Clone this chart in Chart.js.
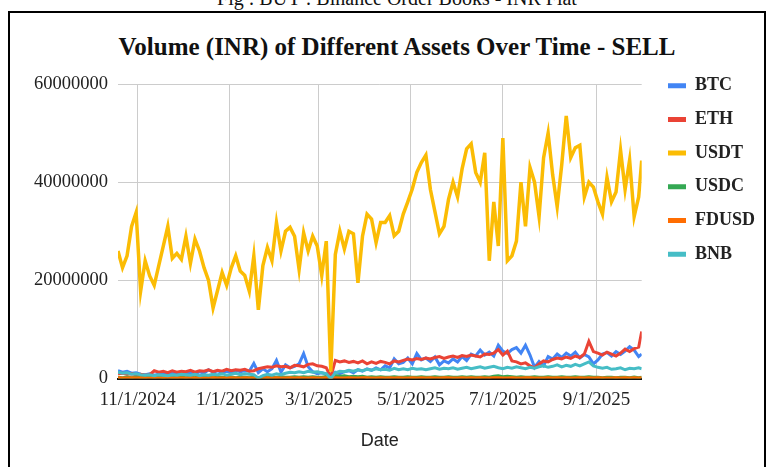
<!DOCTYPE html>
<html>
<head>
<meta charset="utf-8">
<script src="https://cdn.jsdelivr.net/npm/chart.js@4.4.1/dist/chart.umd.min.js"></script>
<style>
  body { margin: 0; background: #fff; width: 770px; height: 467px; overflow: hidden; position: relative; }
  #frame { position: absolute; left: 8px; top: 11px; width: 754px; height: 470px; border: 2px solid #000; border-bottom: none; }
  #caption { position: absolute; left: 0; width: 794px; top: -12px; text-align: center; font: 20px/20px "Liberation Serif", serif; color: #111; white-space: nowrap; }
  #title { position: absolute; left: 0; width: 794px; top: 34px; text-align: center; font: bold 25px/25px "Liberation Serif", serif; color: #111; white-space: nowrap; }
  canvas { position: absolute; left: 0; top: 0; }
</style>
</head>
<body>
<div id="caption">Fig : BUY : Binance Order Books - INR Fiat</div>
<div id="frame"></div>
<div id="title">Volume (INR) of Different Assets Over Time - SELL</div>
<canvas id="chart" width="770" height="467"></canvas>
<script>
// DATA (volumes in millions of INR, one sample every 3 days)

const dates = [
  '2024-10-19','2024-10-22','2024-10-25','2024-10-28','2024-10-31','2024-11-03','2024-11-06','2024-11-09','2024-11-12','2024-11-15',
  '2024-11-18','2024-11-21','2024-11-24','2024-11-27','2024-11-30','2024-12-03','2024-12-06','2024-12-09','2024-12-12','2024-12-15',
  '2024-12-18','2024-12-21','2024-12-24','2024-12-27','2024-12-30','2025-01-02','2025-01-05','2025-01-08','2025-01-11','2025-01-14',
  '2025-01-17','2025-01-20','2025-01-23','2025-01-26','2025-01-29','2025-02-01','2025-02-04','2025-02-07','2025-02-10','2025-02-13',
  '2025-02-16','2025-02-19','2025-02-22','2025-02-25','2025-02-28','2025-03-03','2025-03-06','2025-03-09','2025-03-12','2025-03-15',
  '2025-03-18','2025-03-21','2025-03-24','2025-03-27','2025-03-30','2025-04-02','2025-04-05','2025-04-08','2025-04-11','2025-04-14',
  '2025-04-17','2025-04-20','2025-04-23','2025-04-26','2025-04-29','2025-05-02','2025-05-05','2025-05-08','2025-05-11','2025-05-14',
  '2025-05-17','2025-05-20','2025-05-23','2025-05-26','2025-05-29','2025-06-01','2025-06-04','2025-06-07','2025-06-10','2025-06-13',
  '2025-06-16','2025-06-19','2025-06-22','2025-06-25','2025-06-28','2025-07-01','2025-07-04','2025-07-07','2025-07-10','2025-07-13',
  '2025-07-16','2025-07-19','2025-07-22','2025-07-25','2025-07-28','2025-07-31','2025-08-03','2025-08-06','2025-08-09','2025-08-12',
  '2025-08-15','2025-08-18','2025-08-21','2025-08-24','2025-08-27','2025-08-30','2025-09-02','2025-09-05','2025-09-08','2025-09-11',
  '2025-09-14','2025-09-17','2025-09-20','2025-09-23','2025-09-26','2025-09-29','2025-10-01'
];

const btc = [
  1.6, 1.3, 1.5, 1.1, 1.2, 0.9, 0.8, 1.0, 0.7, 0.9,
  1.0, 0.8, 1.1, 0.9, 1.2, 1.0, 1.3, 0.9, 1.4, 1.1,
  1.8, 1.3, 1.6, 1.2, 1.5, 1.3, 1.7, 1.4, 1.6, 1.5,
  3.1, 1.2, 2.0, 1.4, 2.0, 3.7, 1.3, 2.8, 2.2, 2.5,
  3.0, 5.1, 2.4, 1.4, 1.0, 1.2, 0.9, 0.2, 1.3, 1.0,
  1.4, 1.6, 1.2, 1.8, 1.5, 2.0, 1.7, 2.2, 1.8, 2.6,
  2.2, 4.0, 3.0, 3.3, 4.2, 3.0, 5.1, 3.8, 4.2, 3.5,
  4.4, 2.8, 3.6, 3.2, 4.0, 3.4, 4.5, 3.7, 5.0, 4.6,
  5.8, 4.8, 5.4, 4.6, 6.8, 5.6, 5.1, 5.9, 6.3, 5.2,
  6.8, 4.8, 2.3, 3.5, 2.6, 4.5, 4.0, 5.0, 4.3, 5.2,
  4.6, 5.4, 4.2, 4.9, 4.4, 3.0, 3.8, 5.0, 5.3, 4.6,
  5.5, 4.9, 5.6, 6.5, 5.8, 4.5, 5.0
];

const eth = [
  1.0, 1.1, 0.9, 1.0, 0.8, 0.9, 0.7, 0.8, 1.6, 1.3,
  1.5, 1.2, 1.6, 1.3, 1.5, 1.4, 1.7, 1.3, 1.6, 1.5,
  1.8, 1.4, 1.7, 1.5, 1.9, 1.6, 1.8, 1.7, 1.9, 1.5,
  1.6, 2.0, 2.2, 2.4, 2.3, 2.6, 2.4, 2.5, 2.2, 2.7,
  2.6, 2.4, 2.9, 3.0, 2.6, 2.5, 2.2, 0.3, 3.7, 3.4,
  3.6, 3.3, 3.5, 3.2, 3.6, 3.0, 3.4, 3.1, 3.5, 3.3,
  3.0, 3.6, 3.4, 3.7, 4.0, 3.8, 4.1, 3.9, 4.2, 4.0,
  4.3, 4.5, 4.1, 4.4, 4.6, 4.3, 4.7, 4.5, 4.8, 4.6,
  4.4, 5.0, 4.9, 5.2, 5.9, 4.8, 5.6, 3.6, 3.4, 3.0,
  3.2, 2.6, 2.2, 3.0, 3.6, 3.4, 3.9, 4.2, 4.0, 4.4,
  4.1, 4.6, 4.3, 5.0, 7.6, 5.5, 5.2, 4.8, 5.4, 5.0,
  4.6, 5.2, 6.0, 5.5, 6.1, 6.4, 9.6
];

const usdt = [
  26.0, 22.6, 25.0, 31.0, 33.8, 17.8, 24.0, 20.9, 19.0, 23.0,
  27.0, 31.0, 24.5, 25.5, 24.3, 29.0, 23.5, 28.4, 26.0, 22.6,
  20.0, 14.4, 18.0, 21.6, 19.0, 22.5, 25.0, 21.9, 21.0, 17.8,
  25.0, 14.0, 23.0, 26.7, 24.0, 31.8, 26.0, 30.0, 30.8, 29.0,
  22.2, 29.7, 26.0, 29.0, 27.0, 21.0, 28.0, 1.4, 25.3, 30.0,
  26.4, 30.0, 29.5, 19.5, 29.0, 33.5, 32.5, 27.7, 31.8, 31.8,
  33.2, 29.1, 30.0, 33.5, 36.0, 38.6, 42.0, 44.0, 45.5, 38.5,
  34.0, 29.5, 31.0, 36.5, 40.0, 37.0, 42.7, 46.8, 47.8, 42.0,
  40.0, 46.0, 24.0, 36.0, 27.0, 49.0, 24.0, 25.0, 28.0, 40.0,
  31.0, 43.0, 40.0, 33.0, 45.0, 50.0, 41.5, 35.0, 43.5, 53.5,
  45.0, 47.0, 47.5, 37.0, 40.0, 39.0, 36.0, 33.5, 41.0, 36.0,
  38.0, 46.5, 38.5, 44.5, 33.0, 37.0, 44.4
];

const usdc = [
  0.3, 0.2, 0.3, 0.2, 0.3, 0.2, 0.2, 0.3, 0.2, 0.3,
  0.2, 0.3, 0.2, 0.2, 0.3, 0.2, 0.3, 0.2, 0.2, 0.3,
  0.3, 0.2, 0.3, 0.3, 0.2, 0.3, 0.2, 0.3, 0.3, 0.2,
  0.3, 0.2, 0.3, 0.2, 0.3, 0.3, 0.4, 0.3, 0.3, 0.4,
  0.3, 0.4, 0.3, 0.4, 0.3, 0.3, 0.4, 0.1, 0.6, 0.5,
  0.6, 0.4, 0.5, 0.4, 0.5, 0.3, 0.4, 0.3, 0.4, 0.3,
  0.3, 0.4, 0.3, 0.3, 0.4, 0.3, 0.3, 0.4, 0.3, 0.3,
  0.4, 0.3, 0.3, 0.4, 0.3, 0.3, 0.4, 0.3, 0.4, 0.3,
  0.3, 0.4, 0.3, 0.5, 0.6, 0.4, 0.5, 0.4, 0.3, 0.4,
  0.3, 0.3, 0.4, 0.3, 0.3, 0.4, 0.3, 0.3, 0.4, 0.3,
  0.3, 0.4, 0.3, 0.3, 0.4, 0.3, 0.3, 0.2, 0.3, 0.3,
  0.2, 0.3, 0.3, 0.2, 0.3, 0.2, 0.3
];

const fdusd = [
  0.15, 0.12, 0.14, 0.16, 0.13, 0.15, 0.14, 0.12, 0.15, 0.13,
  0.14, 0.16, 0.13, 0.15, 0.12, 0.14, 0.15, 0.13, 0.16, 0.14,
  0.12, 0.15, 0.14, 0.13, 0.15, 0.16, 0.14, 0.12, 0.15, 0.13,
  0.14, 0.15, 0.13, 0.16, 0.14, 0.15, 0.12, 0.14, 0.16, 0.13,
  0.15, 0.14, 0.13, 0.15, 0.12, 0.14, 0.15, 0.05, 0.16, 0.14,
  0.13, 0.15, 0.14, 0.12, 0.15, 0.16, 0.13, 0.14, 0.15, 0.13,
  0.16, 0.14, 0.15, 0.12, 0.14, 0.15, 0.13, 0.16, 0.14, 0.15,
  0.13, 0.14, 0.16, 0.15, 0.12, 0.14, 0.15, 0.13, 0.16, 0.14,
  0.15, 0.13, 0.14, 0.16, 0.15, 0.12, 0.14, 0.15, 0.13, 0.14,
  0.16, 0.15, 0.13, 0.14, 0.12, 0.15, 0.14, 0.16, 0.13, 0.15,
  0.14, 0.12, 0.15, 0.13, 0.16, 0.14, 0.15, 0.13, 0.14, 0.12,
  0.15, 0.14, 0.16, 0.13, 0.15, 0.14, 0.15
];

const bnb = [
  1.3, 1.1, 1.2, 0.9, 1.0, 0.8, 0.7, 0.8, 0.6, 0.8,
  0.7, 0.6, 0.8, 0.7, 0.9, 0.8, 0.7, 0.9, 0.6, 0.8,
  0.7, 0.9, 0.8, 1.0, 0.7, 0.9, 1.1, 0.8, 1.0, 0.9,
  0.8, 0.1, 0.6, 0.9, 0.7, 1.0, 0.8, 1.1, 1.3, 1.2,
  1.4, 1.2, 1.5, 1.3, 1.4, 1.2, 1.0, 0.0, 1.2, 1.5,
  1.4, 1.7, 1.5, 1.8, 1.6, 1.9, 1.7, 2.0, 1.8, 1.9,
  1.7, 2.1, 1.8, 2.0, 1.8, 2.1, 1.9, 2.0, 1.8, 2.0,
  2.2, 1.9, 2.1, 2.0, 2.2, 1.9, 2.1, 2.3, 2.0, 2.2,
  2.4, 2.1, 2.3, 2.5, 2.2, 2.0, 2.3, 2.1, 2.4, 2.2,
  2.0, 2.3, 2.1, 2.4, 2.6, 2.3, 2.5, 2.8, 2.4, 2.7,
  2.5, 2.9, 2.6, 3.0, 3.4, 2.6, 2.3, 2.1, 2.3, 1.9,
  2.0, 2.2, 1.8, 2.1, 2.0, 2.2, 2.0
];

const xTickLabels = ['11/1/2024', '1/1/2025', '3/1/2025', '5/1/2025', '7/1/2025', '9/1/2025'];
const yTicks = [0, 20000000, 40000000, 60000000];

// helpers

function isoDay(s) {
  const p = s.split('-').map(Number);
  return Date.UTC(p[0], p[1] - 1, p[2]) / 86400000;
}
function usDay(s) {
  const p = s.split('/').map(Number);
  return Date.UTC(p[2], p[0] - 1, p[1]) / 86400000;
}

const day0 = isoDay(dates[0]);
const days = dates.map(d => isoDay(d) - day0);
const tickDays = xTickLabels.map(l => usDay(l) - day0);

function series(vals) {
  return vals.map((v, i) => ({ x: days[i], y: v * 1000000 }));
}

const serif = "'Liberation Serif', 'Times New Roman', serif";

const assets = [
  { label: 'BTC',   data: btc,   color: '#4285F4' },
  { label: 'ETH',   data: eth,   color: '#EA4335' },
  { label: 'USDT',  data: usdt,  color: '#FBBC04' },
  { label: 'USDC',  data: usdc,  color: '#34A853' },
  { label: 'FDUSD', data: fdusd, color: '#FF6D01' },
  { label: 'BNB',   data: bnb,   color: '#46BDC6' }
];

new Chart(document.getElementById('chart').getContext('2d'), {
  type: 'line',
  data: {
    datasets: assets.map((a, i) => ({
      label: a.label,
      data: series(a.data),
      borderColor: a.color,
      backgroundColor: a.color,
      borderWidth: a.label === 'USDT' ? 3.5 : 3,
      pointRadius: 0,
      tension: 0,
      fill: false,
      order: assets.length - i
    }))
  },
  options: {
    responsive: false,
    animation: false,
    layout: { padding: { top: 61, left: 24, right: 5, bottom: 15 } },
    plugins: {
      title: { display: false },
      tooltip: { enabled: false },
      legend: {
        position: 'right',
        align: 'start',
        labels: {
          boxWidth: 18,
          boxHeight: 5,
          padding: 15.7,
          color: '#222',
          font: { family: serif, size: 18, weight: 'bold' },
          sort: (a, b) => a.datasetIndex - b.datasetIndex,
          generateLabels: (chart) => {
            const items = Chart.defaults.plugins.legend.labels.generateLabels(chart);
            items.forEach(it => { it.lineWidth = 0; });
            return items;
          }
        }
      }
    },
    scales: {
      x: {
        type: 'linear',
        min: days[0],
        max: days[days.length - 1],
        afterBuildTicks: (scale) => { scale.ticks = tickDays.map(v => ({ value: v })); },
        grid: { color: '#cccccc', lineWidth: 1, drawTicks: false },
        border: { display: true, color: '#111', width: 2 },
        ticks: {
          autoSkip: false,
          maxRotation: 0,
          minRotation: 0,
          padding: 10,
          color: '#222',
          font: { family: serif, size: 19 },
          callback: (v) => xTickLabels[tickDays.indexOf(v)]
        },
        title: {
          display: true,
          text: 'Date',
          color: '#222',
          font: { family: "'Liberation Sans', Arial, sans-serif", size: 18 },
          padding: { top: 9, bottom: 0 }
        }
      },
      y: {
        type: 'linear',
        min: 0,
        max: 60000000,
        afterBuildTicks: (scale) => { scale.ticks = yTicks.map(v => ({ value: v })); },
        grid: { color: '#cccccc', lineWidth: 1, drawTicks: false },
        border: { display: false },
        ticks: {
          padding: 10,
          color: '#222',
          font: { family: serif, size: 18.5 },
          callback: (v) => String(v)
        }
      },
      x2: {
        type: 'linear',
        position: 'top',
        grid: { display: false },
        border: { display: false },
        ticks: { display: false },
        afterFit: (scale) => { scale.height = 23; }
      },
      y2: {
        type: 'linear',
        position: 'right',
        grid: { display: false },
        border: { display: false },
        ticks: { display: false },
        afterFit: (scale) => { scale.width = 10.6; }
      }
    }
  }
});
</script>
</body>
</html>
